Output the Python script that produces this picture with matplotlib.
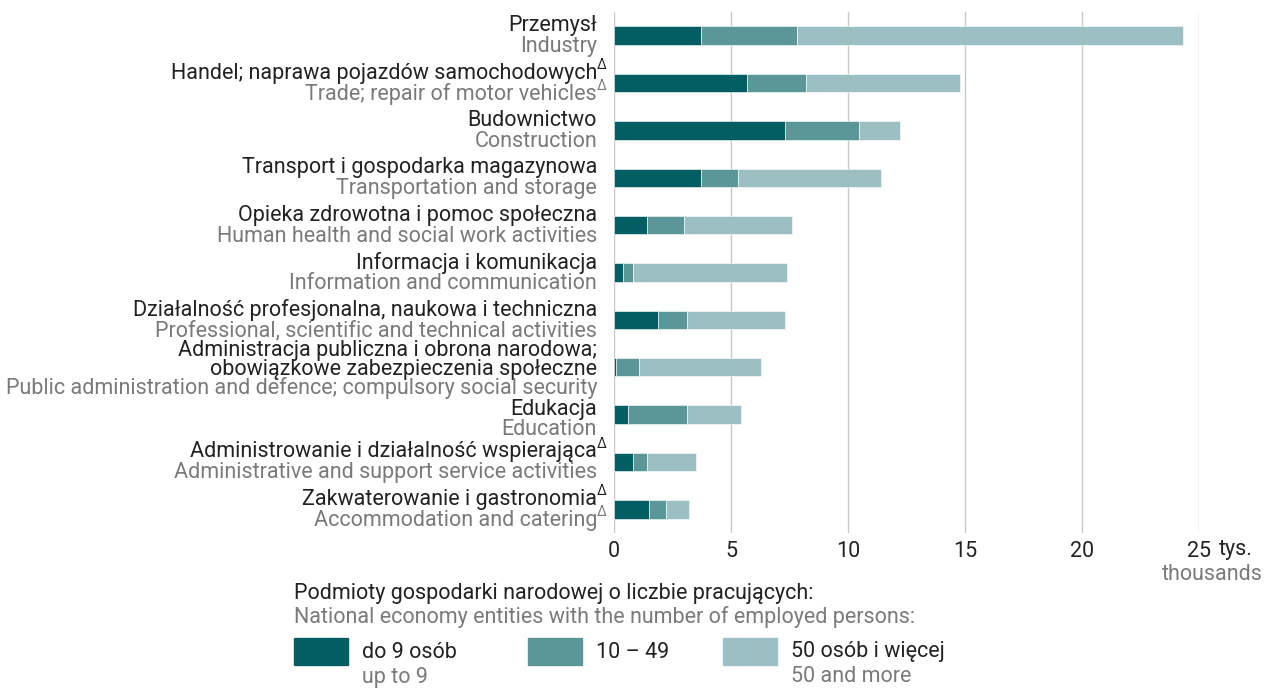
import matplotlib.pyplot as plt
import numpy as np

plt.rcParams['font.family'] = ['Roboto', 'DejaVu Sans']

# data (thousands)
pl_labels = [
    ["Przemysł"],
    ["Handel; naprawa pojazdów samochodowych"],
    ["Budownictwo"],
    ["Transport i gospodarka magazynowa"],
    ["Opieka zdrowotna i pomoc społeczna"],
    ["Informacja i komunikacja"],
    ["Działalność profesjonalna, naukowa i techniczna"],
    ["Administracja publiczna i obrona narodowa;", "obowiązkowe zabezpieczenia społeczne"],
    ["Edukacja"],
    ["Administrowanie i działalność wspierająca"],
    ["Zakwaterowanie i gastronomia"],
]
en_labels = [
    "Industry",
    "Trade; repair of motor vehicles",
    "Construction",
    "Transportation and storage",
    "Human health and social work activities",
    "Information and communication",
    "Professional, scientific and technical activities",
    "Public administration and defence; compulsory social security",
    "Education",
    "Administrative and support service activities",
    "Accommodation and catering",
]
pl_delta = [False, True, False, False, False, False, False, False, False, True, True]
en_delta = [False, True, False, False, False, False, False, False, False, False, True]

small = [3.70, 5.70, 7.31, 3.70, 1.41, 0.40, 1.90, 0.09, 0.60, 0.81, 1.50]
medium = [4.12, 2.51, 3.18, 1.61, 1.59, 0.41, 1.20, 0.99, 2.50, 0.60, 0.72]
large = [16.49, 6.59, 1.73, 6.10, 4.62, 6.59, 4.21, 5.22, 2.32, 2.09, 0.99]

legend_pl = ["do 9 osób", "10 – 49", "50 osób i więcej"]
legend_en = ["up to 9", "", "50 and more"]
colors = ["#025e63", "#5b9699", "#9bbfc2"]

dark = "#222222"
grey = "#7a7a7a"
fs = 15.5

fig = plt.figure(figsize=(12.65, 6.89), dpi=100)
W, H = 1265, 689
ax = fig.add_axes([614 / W, 1 - 533 / H, (1199 - 614) / W, (533 - 12) / H])

y = np.arange(len(pl_labels))
left = np.zeros(len(y))
for vals, c in zip([small, medium, large], colors):
    ax.barh(y, vals, left=left, height=0.39, color=c, edgecolor="white", linewidth=0.4, zorder=3)
    left = left + np.array(vals)

ax.set_xlim(0, 25)
ax.set_ylim(len(y) - 0.5, -0.5)
ax.set_xticks([0, 5, 10, 15, 20, 25])
ax.set_xticklabels(["0", "5", "10", "15", "20", "25"])
ax.set_yticks([])
ax.grid(axis="x", color="#c8c8c8", linewidth=1, zorder=0)
for s in ax.spines.values():
    s.set_visible(False)
ax.tick_params(axis="x", length=0, labelsize=fs, labelcolor=dark, pad=6)

ax.annotate("tys.", xy=(25, 0), xycoords=("data", "axes fraction"), xytext=(20, -17),
            textcoords="offset pixels", ha="left", va="center", fontsize=fs, color=dark)
fig.text(1263 / W, 1 - 574 / H, "thousands", ha="right", va="center", fontsize=fs, color=grey)

tr = ("axes fraction", "data")


def put(txt, i, dy, color, size=fs, dx=-17, ha="right"):
    ax.annotate(txt, xy=(0, i), xycoords=tr, xytext=(dx, dy), textcoords="offset pixels",
                ha=ha, va="center", fontsize=size, color=color, annotation_clip=False)


for i in y:
    lines = pl_labels[i]
    if len(lines) > 1:
        offs, en_off = [17, -2], -21
    elif en_labels[i] == "Education":
        offs, en_off = [5], -15
    else:
        offs, en_off = [10], -11
    for line, off in zip(lines, offs):
        put(line, i, off, dark)
    put(en_labels[i], i, en_off, grey)
    if pl_delta[i]:
        put("Δ", i, offs[-1] + 8, dark, size=10, dx=-17, ha="left")
    if en_delta[i]:
        put("Δ", i, en_off + 8, grey, size=10, dx=-17, ha="left")

# legend
fig.text(294 / W, 1 - 594 / H, "Podmioty gospodarki narodowej o liczbie pracujących:",
         ha="left", va="center", fontsize=fs, color=dark)
fig.text(294 / W, 1 - 617 / H, "National economy entities with the number of employed persons:",
         ha="left", va="center", fontsize=fs, color=grey)
box_x = [294, 528, 723]
for bx, c, lp, le in zip(box_x, colors, legend_pl, legend_en):
    fig.patches.append(plt.Rectangle((bx / W, 1 - 665 / H), 54 / W, 27 / H,
                                     transform=fig.transFigure, color=c))
    fig.text((bx + 68) / W, 1 - 652 / H, lp, ha="left", va="center", fontsize=fs, color=dark)
    if le:
        fig.text((bx + 68) / W, 1 - 677 / H, le, ha="left", va="center", fontsize=fs, color=grey)

fig.savefig("out.png", dpi=100)
